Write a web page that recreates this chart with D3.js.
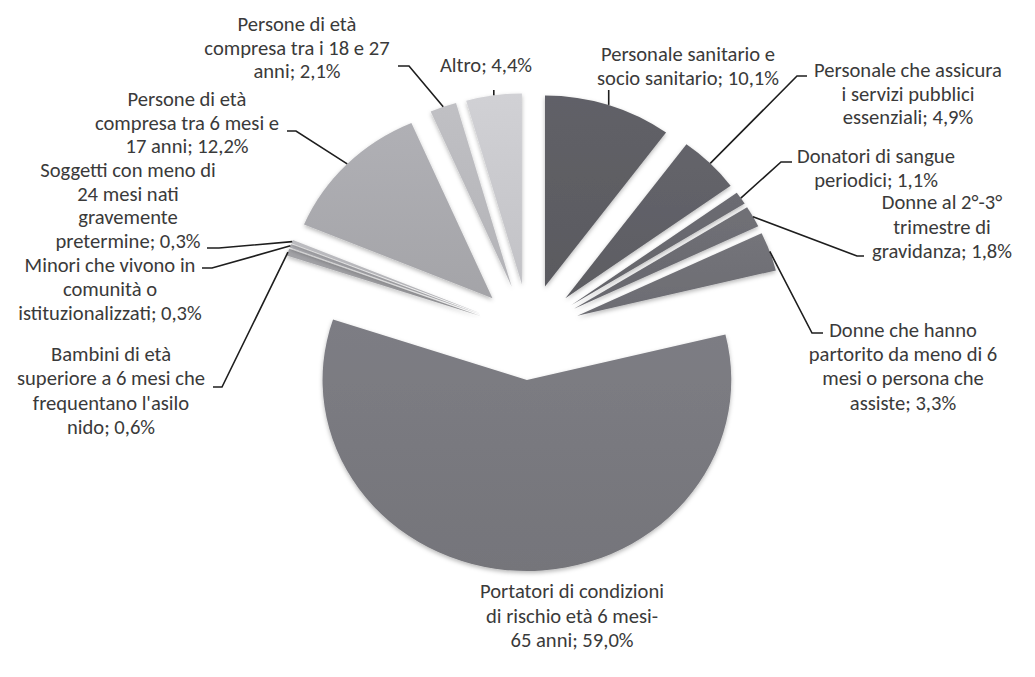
<!DOCTYPE html>
<html>
<head>
<meta charset="utf-8">
<script src="https://cdn.jsdelivr.net/npm/d3@7"></script>
<style>
  html, body { margin: 0; padding: 0; background: #ffffff; }
  svg { display: block; }
</style>
</head>
<body>
<svg id="chart" width="1035" height="677"></svg>
<script>
// ---------------- DATA ----------------
const categories = [
  "Personale sanitario e socio sanitario",
  "Personale che assicura i servizi pubblici essenziali",
  "Donatori di sangue periodici",
  "Donne al 2°-3° trimestre di gravidanza",
  "Donne che hanno partorito da meno di 6 mesi o persona che assiste",
  "Portatori di condizioni di rischio età 6 mesi-65 anni",
  "Bambini di età superiore a 6 mesi che frequentano l'asilo nido",
  "Minori che vivono in comunità o istituzionalizzati",
  "Soggetti con meno di 24 mesi nati gravemente pretermine",
  "Persone di età compresa tra 6 mesi e 17 anni",
  "Persone di età compresa tra i 18 e 27 anni",
  "Altro"
];
const values = [10.1, 4.9, 1.1, 1.8, 3.3, 59.0, 0.6, 0.3, 0.3, 12.2, 2.1, 4.4];
const labelLines = [
  ["Personale sanitario e", "socio sanitario; 10,1%"],
  ["Personale che assicura", "i servizi pubblici", "essenziali; 4,9%"],
  ["Donatori di sangue", "periodici; 1,1%"],
  ["Donne al 2°-3°", "trimestre di", "gravidanza; 1,8%"],
  ["Donne che hanno", "partorito da meno di 6", "mesi o persona che", "assiste; 3,3%"],
  ["Portatori di condizioni", "di rischio età 6 mesi-", "65 anni; 59,0%"],
  ["Bambini di età", "superiore a 6 mesi che", "frequentano l'asilo", "nido; 0,6%"],
  ["Minori che vivono in", "comunità o", "istituzionalizzati; 0,3%"],
  ["Soggetti con meno di", "24 mesi nati", "gravemente", "pretermine; 0,3%"],
  ["Persone di età", "compresa tra 6 mesi e", "17 anni; 12,2%"],
  ["Persone di età", "compresa tra i 18 e 27", "anni; 2,1%"],
  ["Altro; 4,4%"]
];

// ---------------- LAYOUT / STYLE ----------------
const center = {x: 529, y: 332};
const radius = 191;
const stretchX = 1.07;
const explode = 48;

const sliceColors = ["#5d5d63", "#606066", "#67676d", "#6b6b71", "#6f6f75", "#78787e",
                     "#9c9ca0", "#a8a8ac", "#b4b4b8", "#a9a9ad", "#b8b8bc", "#c8c8cc"];

// label centre x, first baseline y, line spacing, leader start points (label side)
const labelLayout = [
  {cx: 688, y0: 61,  lh: 24.0, leader: [[609, 90]], vertical: true},
  {cx: 908, y0: 77,  lh: 23.6, leader: [[807, 76], [797, 76]]},
  {cx: 876, y0: 163, lh: 24.0, leader: [[792, 162], [781, 162]]},
  {cx: 942, y0: 209, lh: 24.5, leader: [[864, 256], [857, 256]]},
  {cx: 903, y0: 337, lh: 24.2, leader: [[823, 333], [812, 333]]},
  {cx: 572, y0: 598, lh: 24.5, leader: null},
  {cx: 111, y0: 361, lh: 24.3, leader: [[213, 387], [222, 387]]},
  {cx: 110, y0: 272, lh: 23.8, leader: [[202, 268], [212, 268]]},
  {cx: 128, y0: 177, lh: 23.6, leader: [[207, 248], [219, 248]]},
  {cx: 187, y0: 106, lh: 23.6, leader: [[287, 131], [296, 131]]},
  {cx: 297, y0: 31,  lh: 23.6, leader: [[398, 66], [409, 66]]},
  {cx: 486, y0: 72,  lh: 24.0, leader: [[493, 90]], vertical: true}
];

// ---------------- DRAW ----------------
const svg = d3.select("#chart");
const defs = svg.append("defs");

const shadow = defs.append("filter").attr("id", "shadow")
  .attr("x", "-20%").attr("y", "-20%").attr("width", "140%").attr("height", "140%");
shadow.append("feDropShadow").attr("dx", 0).attr("dy", 2).attr("stdDeviation", 2.2)
  .attr("flood-color", "#000").attr("flood-opacity", 0.28);

sliceColors.forEach((c, i) => {
  const g = defs.append("linearGradient").attr("id", "grad" + i)
    .attr("x1", 0).attr("y1", 0).attr("x2", 0).attr("y2", 1);
  g.append("stop").attr("offset", "0%").attr("stop-color", d3.color(c).brighter(0.12));
  g.append("stop").attr("offset", "100%").attr("stop-color", d3.color(c).darker(0.08));
});

const data = categories.map((c, i) => ({category: c, value: values[i], index: i}));
const pie = d3.pie().value(d => d.value).sort(null);
const arcs = pie(data);

const arcGen = d3.arc().innerRadius(0).outerRadius(radius);
const edgeArc = d3.arc().innerRadius(radius).outerRadius(radius);
const explodeArc = d3.arc().innerRadius(explode).outerRadius(explode);

const pieG = svg.append("g")
  .attr("transform", `translate(${center.x},${center.y}) scale(${stretchX},1)`);

pieG.selectAll("path.slice")
  .data(arcs)
  .join("path")
  .attr("class", "slice")
  .attr("transform", d => {
    const [ox, oy] = explodeArc.centroid(d);
    return `translate(${ox},${oy})`;
  })
  .attr("d", arcGen)
  .attr("fill", d => `url(#grad${d.index})`)
  .attr("filter", "url(#shadow)");

// anchor point (outer arc at bisector, exploded, stretched) in page coordinates
function anchor(d) {
  const [ox, oy] = explodeArc.centroid(d);
  const [ex, ey] = edgeArc.centroid(d);
  return [center.x + (ox + ex) * stretchX, center.y + oy + ey];
}

// leaders
const leaderG = svg.append("g");
arcs.forEach((d, i) => {
  const lay = labelLayout[i];
  if (!lay.leader) return;
  const a = anchor(d);
  let pts;
  if (lay.vertical) pts = [[a[0], lay.leader[0][1]], a];
  else pts = lay.leader.concat([a]);
  leaderG.append("path")
    .attr("d", d3.line()(pts))
    .attr("fill", "none")
    .attr("stroke", "#1e1e1e")
    .attr("stroke-width", 1.6);
});

// font sizing: match Calibri-like width
const fontFamily = "Carlito, Lato, 'Open Sans', sans-serif";
const probe = svg.append("text").attr("font-family", fontFamily).attr("font-size", 20)
  .text("Portatori di condizioni");
const w = probe.node().getComputedTextLength();
probe.remove();
const fontSize = Math.max(14, Math.min(22, 20 * 184 / w));

const labelG = svg.append("g")
  .attr("font-family", fontFamily)
  .attr("font-size", fontSize)
  .attr("fill", "#3a3a3a")
  .attr("text-anchor", "middle");

labelLines.forEach((lines, i) => {
  const lay = labelLayout[i];
  const t = labelG.append("text");
  lines.forEach((ln, k) => {
    t.append("tspan").attr("x", lay.cx).attr("y", lay.y0 + k * lay.lh).text(ln);
  });
});
</script>
</body>
</html>
